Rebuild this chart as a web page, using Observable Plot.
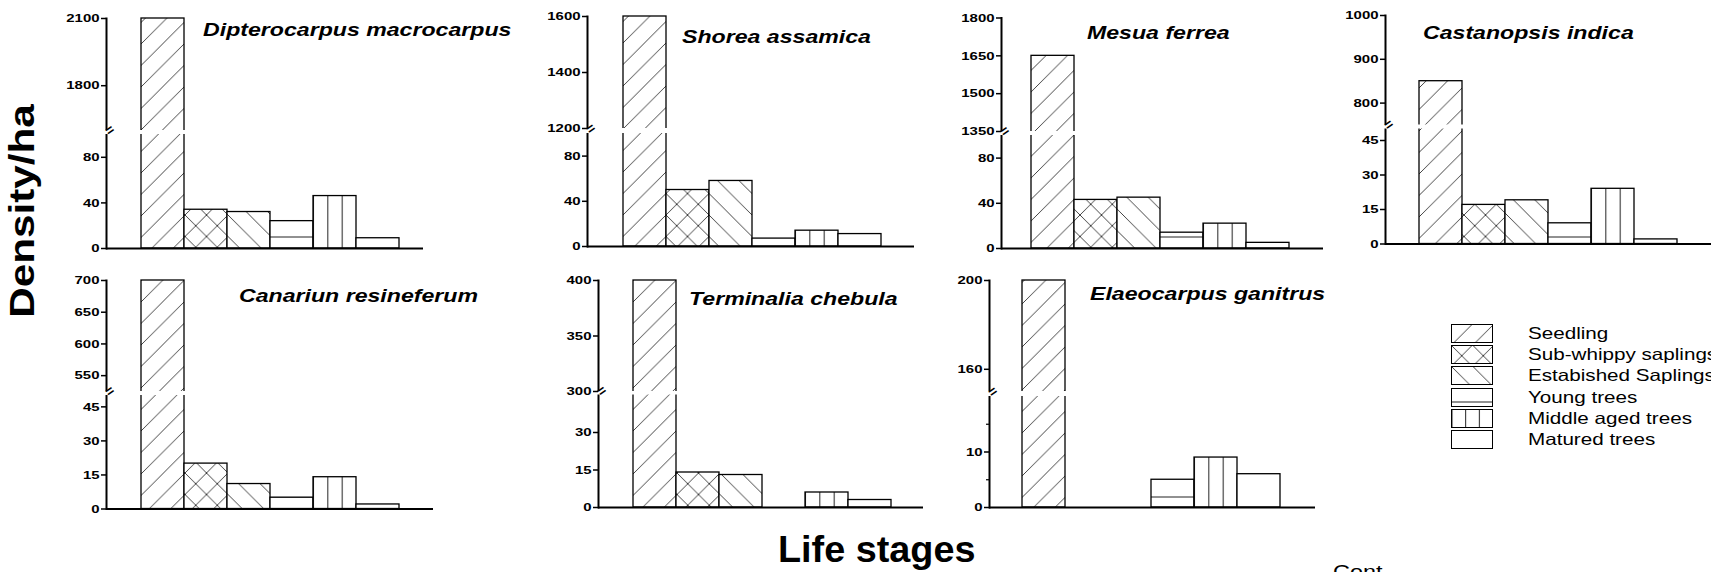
<!DOCTYPE html>
<html><head><meta charset="utf-8">
<script src="https://cdn.jsdelivr.net/npm/d3@7"></script>
<script src="https://cdn.jsdelivr.net/npm/@observablehq/plot@0.6"></script>
<style>
html,body{margin:0;padding:0;background:#fff;overflow:hidden}
#chart{position:relative;width:1711px;height:572px;background:#fff;font-family:"Liberation Sans",Arial,sans-serif;color:#000;overflow:hidden}
#chart svg.panel{position:absolute;top:0;overflow:visible}
.t{position:absolute;white-space:nowrap;transform-origin:0 50%}
.title{font-weight:bold;font-style:italic;font-size:18.5px;line-height:18px;transform:scaleX(1.25)}
.leg{font-size:16.5px;line-height:19px;transform:scaleX(1.25)}
</style></head><body>
<svg width="0" height="0" style="position:absolute">
<defs>
<pattern id="p-seed" patternUnits="userSpaceOnUse" width="21.5" height="21.5">
<rect width="21.5" height="21.5" fill="white"/>
<path d="M-5,26.5L26.5,-5" stroke="#222" stroke-width="0.85"/>
</pattern>
<pattern id="p-cross" patternUnits="userSpaceOnUse" width="21.5" height="21.5">
<rect width="21.5" height="21.5" fill="white"/>
<path d="M-5,26.5L26.5,-5M-5,-5L26.5,26.5" stroke="#222" stroke-width="0.85"/>
</pattern>
<pattern id="p-est" patternUnits="userSpaceOnUse" width="21.5" height="21.5">
<rect width="21.5" height="21.5" fill="white"/>
<path d="M-5,-5L26.5,26.5" stroke="#222" stroke-width="0.85"/>
</pattern>
<pattern id="p-young" patternUnits="userSpaceOnUse" width="20" height="26">
<rect width="20" height="26" fill="white"/>
<path d="M0,3H20" stroke="#222" stroke-width="1"/>
</pattern>
<pattern id="p-young-leg" patternUnits="userSpaceOnUse" width="20" height="26">
<rect width="20" height="26" fill="white"/>
<path d="M0,14H20" stroke="#222" stroke-width="1"/>
</pattern>
<pattern id="p-mid" patternUnits="objectBoundingBox" width="0.33333" height="1">
<rect width="100" height="2000" fill="white"/>
<path d="M0.5,0V2000" stroke="#222" stroke-width="1"/>
</pattern>
</defs>
</svg>
<div id="chart"></div>
<script>
// ---------- data ----------
const stages = ["Seedling", "Sub-whippy saplings", "Estabished Saplings", "Young trees", "Middle aged trees", "Matured trees"];
const species = ["Dipterocarpus macrocarpus", "Shorea assamica", "Mesua ferrea", "Castanopsis indica",
                 "Canariun resineferum", "Terminalia chebula", "Elaeocarpus ganitrus"];

const dipterocarpus = [2100, 34, 32, 24, 46, 9];
const shorea        = [1600, 50, 58, 7, 14, 11];
const mesua         = [1650, 43, 45, 14, 22, 5];
const castanopsis   = [850, 17, 19, 9, 24, 2];
const canarium      = [700, 20, 11, 5, 14, 2];
const terminalia    = [400, 14, 13, 0, 6, 3];
const elaeocarpus   = [200, 0, 0, 5, 9, 6];
const values = [dipterocarpus, shorea, mesua, castanopsis, canarium, terminalia, elaeocarpus];

// broken-axis domains: [lower start, lower end, upper start, upper end]
const breakDomains = [
  [0, 100, 1600, 2100],
  [0, 100, 1200, 1600],
  [0, 100, 1350, 1800],
  [0, 50, 750, 1000],
  [0, 50, 525, 700],
  [0, 45, 300, 400],
  [0, 20, 150, 200]
];
const tickValues = [
  [0, 40, 80, 1800, 2100],
  [0, 40, 80, 1200, 1400, 1600],
  [0, 40, 80, 1350, 1500, 1650, 1800],
  [0, 15, 30, 45, 800, 900, 1000],
  [0, 15, 30, 45, 550, 600, 650, 700],
  [0, 15, 30, 300, 350, 400],
  [0, 10, 160, 200]
];
const minorTicks = [[], [], [], [], [], [], [5, 15]];

// ---------- layout (pixels) ----------
const layout = [
  {axisX: 106,  axisEnd: 423,  bars: [141, 399],   yRange: [248, 134, 130, 18],      title: [203, 29.5]},
  {axisX: 587,  axisEnd: 914,  bars: [622, 882],   yRange: [246, 133, 128, 16],      title: [682, 37]},
  {axisX: 1001, axisEnd: 1323, bars: [1030, 1290], yRange: [248, 135, 131, 17.5],    title: [1087, 33]},
  {axisX: 1385, axisEnd: 1711, bars: [1418, 1677], yRange: [243.5, 128.5, 124.5, 15], title: [1423, 33]},
  {axisX: 106,  axisEnd: 433,  bars: [141, 399],   yRange: [508.5, 395, 391, 280],   title: [239, 296]},
  {axisX: 598,  axisEnd: 923,  bars: [632, 891],   yRange: [507, 394.5, 391, 280],   title: [689, 299]},
  {axisX: 989,  axisEnd: 1315, bars: [1021, 1281], yRange: [507, 396, 391, 280],     title: [1090, 294]}
];
const fills = {
  "Seedling": "url(#p-seed)",
  "Sub-whippy saplings": "url(#p-cross)",
  "Estabished Saplings": "url(#p-est)",
  "Young trees": "url(#p-young)",
  "Middle aged trees": "url(#p-mid)",
  "Matured trees": "white"
};
const H = 572;
const chart = document.getElementById("chart");

function stretch(t, k) {
  const tr = t.getAttribute("transform") || "";
  t.setAttribute("transform", `${tr} scale(${k},1)`);
}

species.forEach((name, i) => {
  const L = layout[i];
  const ML = 50, MR = 2;
  const left = L.axisX - ML;
  const width = ML + (L.axisEnd - L.axisX) + MR;
  const [y0, yL, yU, yTop] = L.yRange;
  const dom = breakDomains[i];
  const rows = stages.map((s, j) => ({stage: s, value: values[i][j]}));
  const marks = [
    Plot.barY(rows, {x: "stage", y: "value", fill: d => fills[d.stage], stroke: "black", strokeWidth: 1.3}),
    Plot.ruleY([0], {strokeWidth: 2}),
    Plot.frame({anchor: "left", strokeWidth: 2}),
    Plot.rect([0], {y1: () => dom[1], y2: () => dom[2], fill: "white", insetLeft: -8}),
    Plot.text([0], {y: () => (dom[1] + dom[2]) / 2, text: () => "=", frameAnchor: "left", rotate: -35, fontSize: 14, fontWeight: "bold"}),
    Plot.axisY({ticks: tickValues[i], tickSize: 5, tickPadding: 2, strokeWidth: 1.5, tickFormat: d => String(d), label: null})
  ];
  if (minorTicks[i].length) marks.push(Plot.axisY({ticks: minorTicks[i], tickSize: 3, strokeWidth: 1.2, tickFormat: () => "", label: null}));
  const svg = Plot.plot({
    width, height: H,
    marginLeft: ML, marginRight: MR, marginTop: yTop, marginBottom: H - y0,
    x: {type: "band", domain: stages, range: [L.bars[0] - left, L.bars[1] - left], padding: 0, axis: null},
    y: {type: "linear", domain: dom, range: [y0, yL, yU, yTop], axis: null},
    color: {type: "identity"},
    style: {fontFamily: "'Liberation Sans', Arial, sans-serif", fontSize: "11.5px", fontWeight: "bold", background: "transparent", color: "black", overflow: "visible"},
    marks
  });
  svg.classList.add("panel");
  svg.style.left = left + "px";
  svg.style.position = "absolute";
  svg.style.top = "0px";
  svg.querySelectorAll('g[aria-label="y-axis tick label"] text').forEach(t => stretch(t, 1.3));
  chart.appendChild(svg);

  const tt = document.createElement("div");
  tt.className = "t title";
  tt.textContent = name;
  tt.style.left = L.title[0] + "px";
  tt.style.top = (L.title[1] - 9) + "px";
  chart.appendChild(tt);
});

// legend
stages.forEach((s, j) => {
  const top = 324 + j * 21.2;
  const ns = "http://www.w3.org/2000/svg";
  const sw = document.createElementNS(ns, "svg");
  sw.setAttribute("width", 42); sw.setAttribute("height", 19);
  sw.style.position = "absolute"; sw.style.left = "1451px"; sw.style.top = top + "px";
  const r = document.createElementNS(ns, "rect");
  r.setAttribute("x", 0.5); r.setAttribute("y", 0.5); r.setAttribute("width", 41); r.setAttribute("height", 18);
  r.setAttribute("fill", s === "Young trees" ? "url(#p-young-leg)" : fills[s]);
  r.setAttribute("stroke", "black"); r.setAttribute("stroke-width", 1);
  sw.appendChild(r);
  chart.appendChild(sw);
  const lb = document.createElement("div");
  lb.className = "t leg";
  lb.textContent = s;
  lb.style.left = "1528px"; lb.style.top = top + "px";
  chart.appendChild(lb);
});

// axis titles
const ylab = document.createElement("div");
ylab.className = "t";
ylab.textContent = "Density/ha";
Object.assign(ylab.style, {left: "22px", top: "211px", fontSize: "35.5px", fontWeight: "bold", lineHeight: "0",
  transformOrigin: "0 0", transform: "rotate(-90deg) scaleX(1.19) translateX(-50%)"});
chart.appendChild(ylab);

const xlab = document.createElement("div");
xlab.className = "t";
xlab.textContent = "Life stages";
Object.assign(xlab.style, {left: "778px", top: "532px", fontSize: "36px", lineHeight: "36px", fontWeight: "bold", transform: "scaleX(1.05)"});
chart.appendChild(xlab);

const cont = document.createElement("div");
cont.className = "t";
cont.textContent = "Cont...";
Object.assign(cont.style, {left: "1333px", top: "563px", fontSize: "18px", lineHeight: "18px", transform: "scaleX(1.3)"});
chart.appendChild(cont);
</script>
</body></html>
